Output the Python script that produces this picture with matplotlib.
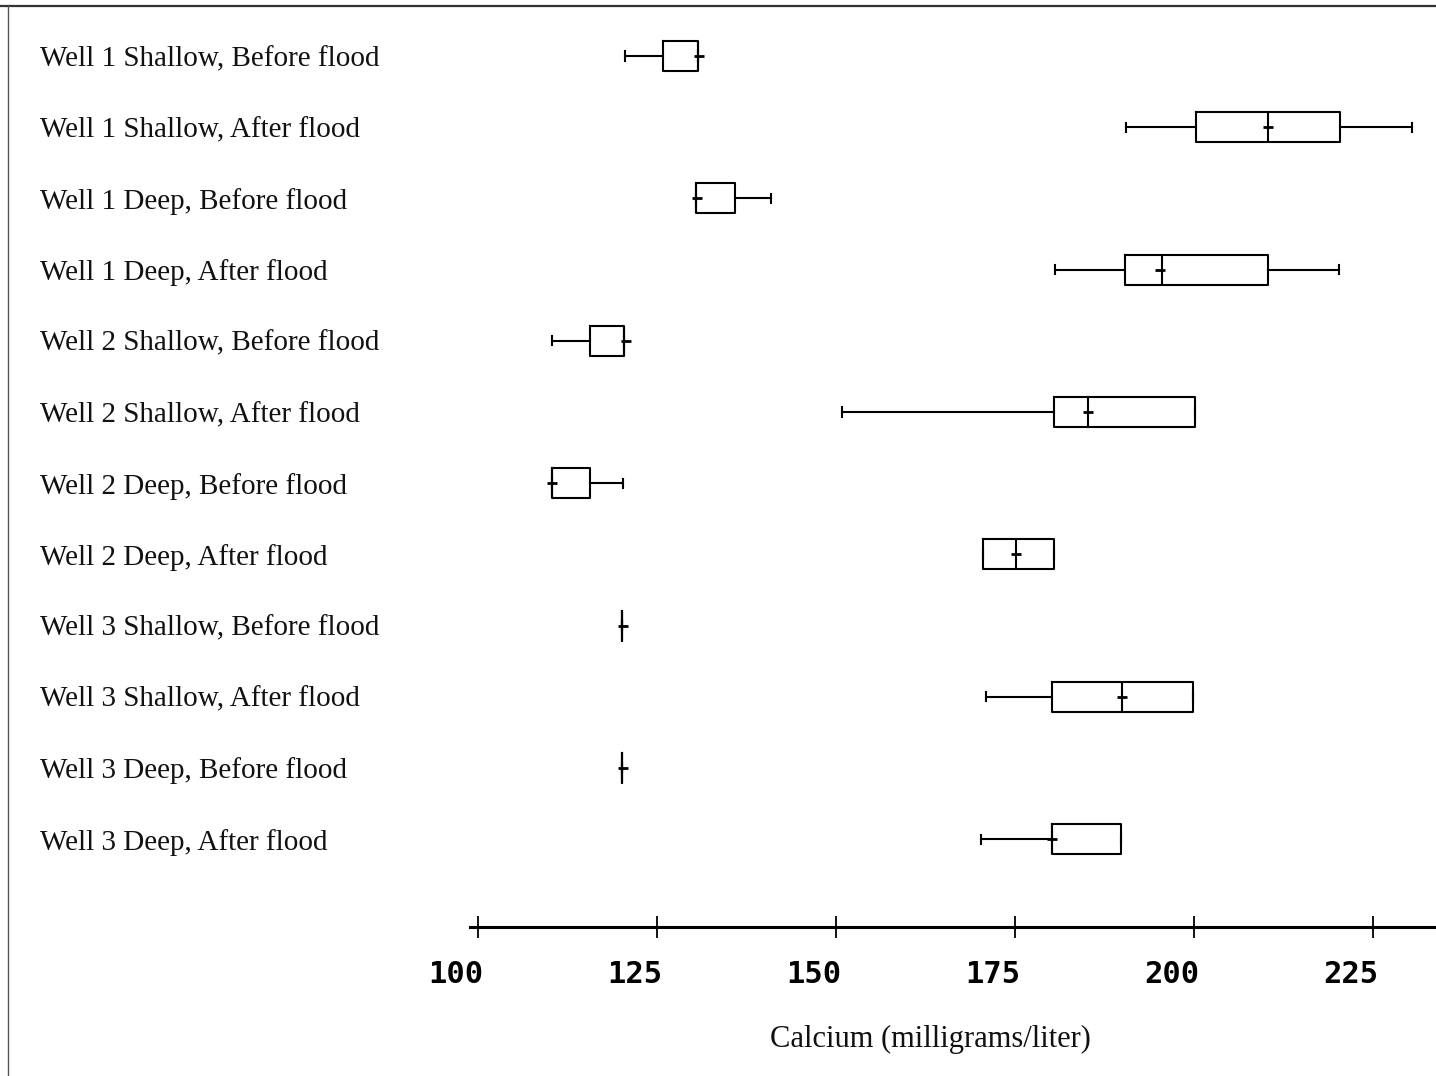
import matplotlib
matplotlib.use("Agg")
import matplotlib.pyplot as plt
from matplotlib.lines import Line2D
import matplotlib.transforms as mtransforms

categories = [
    "Well 1 Shallow, Before flood",
    "Well 1 Shallow, After flood",
    "Well 1 Deep, Before flood",
    "Well 1 Deep, After flood",
    "Well 2 Shallow, Before flood",
    "Well 2 Shallow, After flood",
    "Well 2 Deep, Before flood",
    "Well 2 Deep, After flood",
    "Well 3 Shallow, Before flood",
    "Well 3 Shallow, After flood",
    "Well 3 Deep, Before flood",
    "Well 3 Deep, After flood",
]
whislo = [120.5, 190.5, 130.4, 180.6, 110.4, 150.8, 110.3, 170.5, 120.1, 171.0, 120.1, 170.2]
q1     = [125.8, 200.3, 130.4, 190.3, 115.6, 180.5, 110.3, 170.5, 120.1, 180.2, 120.1, 180.1]
med    = [130.7, 210.4, 130.4, 195.5, 120.4, 185.2, 110.3, 175.2, 120.1, 189.9, 120.1, 180.1]
q3     = [130.7, 220.4, 135.9, 210.3, 120.4, 200.1, 115.6, 180.4, 120.1, 199.8, 120.1, 189.8]
whishi = [130.7, 230.4, 140.9, 220.3, 120.4, 200.1, 120.3, 180.4, 120.1, 199.8, 120.1, 189.8]
means  = [130.9, 210.4, 130.6, 195.3, 120.7, 185.2, 110.3, 175.2, 120.3, 189.9, 120.3, 180.1]
xticks = [100, 125, 150, 175, 200, 225]
xlabel = "Calcium (milligrams/liter)"

W, H = 1436, 1076
fig = plt.figure(figsize=(W / 100, H / 100), dpi=100)
fig.patch.set_facecolor("white")
ax = fig.add_axes([0, 0, 1, 1])
ax.set_facecolor("white")

# pixel mapping: x=100 -> 478 px, 7.16 px per unit
ppu = 7.16
x0px = 478
ax.set_xlim(100 - x0px / ppu, 100 + (W - x0px) / ppu)
row0, rowstep = 56, 71.2
ax.set_ylim((H - row0) / rowstep, -row0 / rowstep)

stats = []
for i in range(len(categories)):
    stats.append(dict(label=categories[i], whislo=whislo[i], q1=q1[i], med=med[i],
                      q3=q3[i], whishi=whishi[i], mean=means[i], fliers=[]))

lw = 1.5
ax.bxp(stats, positions=list(range(len(categories))), widths=0.42,
       orientation="horizontal", showmeans=True, showfliers=False,
       capwidths=0.13,
       boxprops=dict(color="black", linewidth=lw),
       whiskerprops=dict(color="black", linewidth=lw),
       capprops=dict(color="black", linewidth=lw),
       medianprops=dict(color="black", linewidth=lw),
       meanprops=dict(marker="_", markeredgecolor="black", markersize=7,
                      markeredgewidth=2.0))

# y labels
ax.set_yticks(list(range(len(categories))))
ax.set_yticklabels(categories, fontfamily="Liberation Serif", fontsize=21,
                   ha="left", color="#111111")
ax.tick_params(axis="y", length=0, pad=-29)

# x axis
for s in ["top", "right", "left"]:
    ax.spines[s].set_visible(False)
axis_y = (927 - row0) / rowstep
ax.spines["bottom"].set_position(("data", axis_y))
ax.spines["bottom"].set_linewidth(2.2)
ax.spines["bottom"].set_bounds(100 - (x0px - 470) / ppu, 100 + (W - x0px) / ppu)
ax.set_xticks(xticks)
ax.set_xticklabels([str(t) for t in xticks], fontfamily="DejaVu Sans Mono",
                   fontweight="bold", fontsize=22)
ax.tick_params(axis="x", direction="inout", length=16, width=1.3, pad=16)
offset = mtransforms.ScaledTranslation(-22 / 100, 0, fig.dpi_scale_trans)
for lab in ax.get_xticklabels():
    lab.set_transform(lab.get_transform() + offset)

fig.text(930 / W, 1 - 1039 / H, xlabel, fontfamily="Liberation Serif",
         fontsize=22, ha="center", va="center", color="#111111")

# scanned page frame
fig.add_artist(Line2D([0, 1], [1 - 6 / H, 1 - 6 / H], transform=fig.transFigure,
                      color="#333333", linewidth=1.6))
fig.add_artist(Line2D([8 / W, 8 / W], [0, 1 - 6 / H], transform=fig.transFigure,
                      color="#555555", linewidth=1.0))

fig.savefig("out.png", dpi=100, facecolor="white")
